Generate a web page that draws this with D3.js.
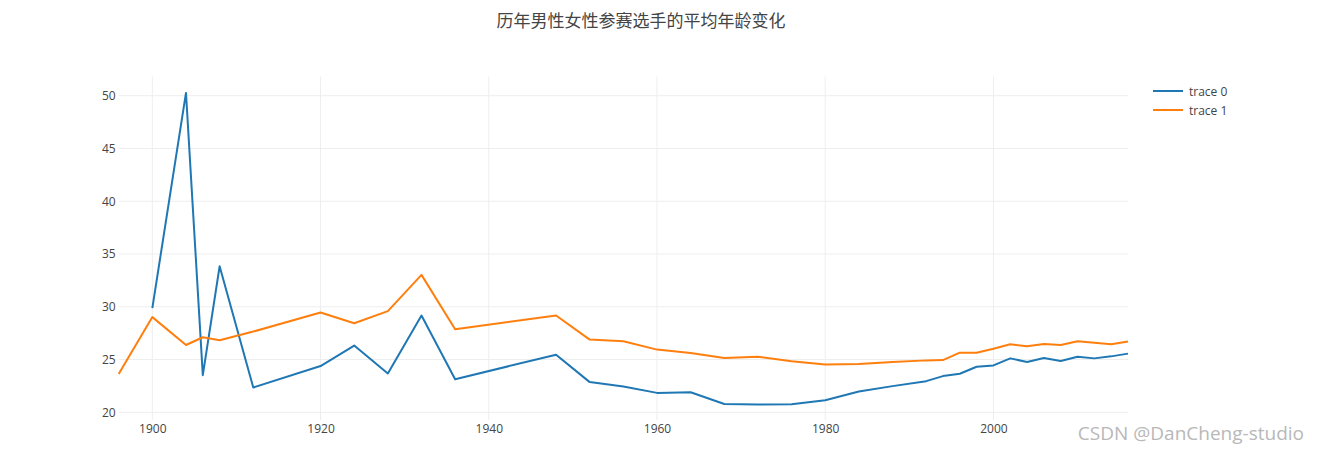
<!DOCTYPE html>
<html>
<head>
<meta charset="utf-8">
<title>历年男性女性参赛选手的平均年龄变化</title>
<script src="https://d3js.org/d3.v7.min.js"></script>
<style>
  body { margin: 0; background: #fff; }
  svg text { font-family: "Open Sans", "Noto Sans CJK SC", sans-serif; fill: #444; }
  .grid line { stroke: #eee; stroke-width: 1; }
  .tick_label { font-size: 12px; }
</style>
</head>
<body>
<div id="chart"></div>
<script>
// data
const years0 = [1900, 1904, 1906, 1908, 1912, 1920, 1924, 1928, 1932, 1936, 1948, 1952, 1956, 1960, 1964, 1968, 1972, 1976, 1980, 1984, 1988, 1992, 1994, 1996, 1998, 2000, 2002, 2004, 2006, 2008, 2010, 2012, 2014, 2016];
const ages0 = [29.88, 50.26, 23.52, 33.84, 22.35, 24.38, 26.32, 23.68, 29.17, 23.14, 25.46, 22.86, 22.44, 21.84, 21.9, 20.79, 20.73, 20.76, 21.14, 21.97, 22.48, 22.95, 23.43, 23.65, 24.32, 24.44, 25.11, 24.76, 25.14, 24.86, 25.27, 25.11, 25.3, 25.56];
const years1 = [1896, 1900, 1904, 1906, 1908, 1912, 1920, 1924, 1928, 1932, 1936, 1948, 1952, 1956, 1960, 1964, 1968, 1972, 1976, 1980, 1984, 1988, 1992, 1994, 1996, 1998, 2000, 2002, 2004, 2006, 2008, 2010, 2012, 2014, 2016];
const ages1 = [23.62, 29.02, 26.38, 27.11, 26.83, 27.65, 29.46, 28.44, 29.59, 33.02, 27.87, 29.17, 26.89, 26.73, 25.94, 25.62, 25.14, 25.27, 24.83, 24.52, 24.57, 24.76, 24.92, 24.95, 25.65, 25.65, 26.03, 26.44, 26.25, 26.48, 26.38, 26.73, 26.6, 26.44, 26.7];
const traceNames = ["trace 0", "trace 1"];
const traceColors = ["#1f77b4", "#ff7f0e"];
const xTicks = [1900, 1920, 1940, 1960, 1980, 2000];
const yTicks = [20, 25, 30, 35, 40, 45, 50];
const title = "历年男性女性参赛选手的平均年龄变化";

const W = 1319, H = 454;
const margin = {top: 76.5, right: 191, bottom: 34, left: 118.7};
const width = W - margin.left - margin.right,
      height = H - margin.top - margin.bottom;

const svg = d3.select("#chart").append("svg")
    .attr("width", W)
    .attr("height", H);

const g = svg.append("g")
    .attr("transform", `translate(${margin.left},${margin.top})`);

const x = d3.scaleLinear().domain([1896, 2016]).range([0, width]);
const y = d3.scaleLinear().domain([19.27, 51.82]).range([height, 0]);

// grid lines
g.append("g").attr("class", "grid")
  .selectAll("line").data(xTicks).enter().append("line")
    .attr("x1", d => x(d)).attr("x2", d => x(d))
    .attr("y1", 0).attr("y2", height);
g.append("g").attr("class", "grid")
  .selectAll("line").data(yTicks).enter().append("line")
    .attr("x1", 0).attr("x2", width)
    .attr("y1", d => y(d)).attr("y2", d => y(d));

// axes (labels only)
const xAxis = g.append("g")
    .attr("transform", `translate(0,${height})`)
    .call(d3.axisBottom(x).tickValues(xTicks).tickFormat(d3.format("d")).tickSize(0).tickPadding(5));
const yAxis = g.append("g")
    .call(d3.axisLeft(y).tickValues(yTicks).tickSize(0).tickPadding(5));
[xAxis, yAxis].forEach(a => {
  a.select(".domain").remove();
  a.selectAll("text").attr("class", "tick_label").style("font-size", "12px").attr("fill", "#444");
});
xAxis.selectAll("text").attr("dy", "0.71em").attr("y", 4);
yAxis.selectAll("text").attr("x", -3);

// lines
const line = d3.line().x(d => x(d[0])).y(d => y(d[1]));
const series = [d3.zip(years0, ages0), d3.zip(years1, ages1)];
g.selectAll(".trace").data(series).enter().append("path")
    .attr("class", "trace")
    .attr("d", line)
    .attr("fill", "none")
    .attr("stroke", (d, i) => traceColors[i])
    .attr("stroke-width", 2)
    .attr("stroke-linejoin", "round");

// title
svg.append("text")
    .attr("x", 641).attr("y", 27)
    .attr("text-anchor", "middle")
    .style("font-size", "17px")
    .text(title);

// legend
const legend = svg.append("g").attr("transform", "translate(1153,91)");
traceNames.forEach((name, i) => {
  const row = legend.append("g").attr("transform", `translate(0,${i * 19})`);
  row.append("line").attr("x1", 0).attr("x2", 30).attr("y1", 0).attr("y2", 0)
     .attr("stroke", traceColors[i]).attr("stroke-width", 2);
  row.append("text").attr("x", 36).attr("y", 4.5).style("font-size", "12px").text(name);
});

// watermark
svg.append("text")
    .attr("x", 1304).attr("y", 440)
    .attr("text-anchor", "end")
    .style("font-size", "19px")
    .style("fill", "#b8b8b8")
    .text("CSDN @DanCheng-studio");
</script>
</body>
</html>
